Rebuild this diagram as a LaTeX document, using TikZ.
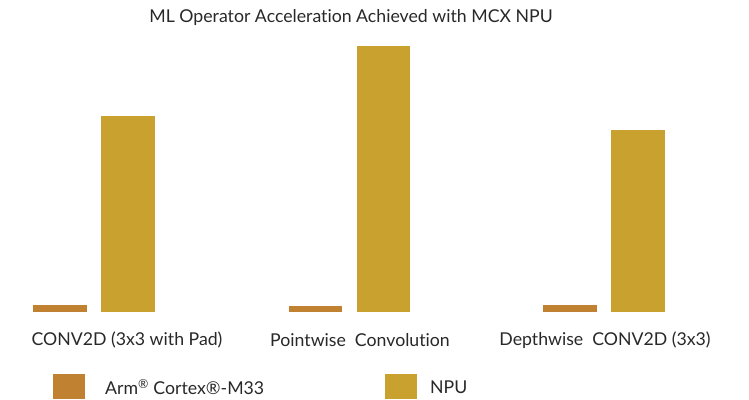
\documentclass[tikz,border=0pt]{standalone}
\usepackage{fontspec}
\setmainfont[Ligatures=NoCommon]{Lato}
\definecolor{armc}{RGB}{192,129,48}
\definecolor{npuc}{RGB}{200,161,46}
\definecolor{txt}{RGB}{40,40,40}
\begin{document}
\begin{tikzpicture}[x=1pt,y=-1pt,
  lbl/.style={font=\fontsize{17.7}{20}\selectfont, text=txt, inner sep=0pt},
  bar/.style={inner sep=0pt, outer sep=0pt}]
\useasboundingbox (0,0) rectangle (749,399);
\node[lbl] (title) at (351,17) {ML Operator Acceleration Achieved with MCX NPU};
% group 1
\fill[armc] (33,305) rectangle (87,312);
\fill[npuc] (101,116) rectangle (155,312);
% group 2
\fill[armc] (289,306) rectangle (342,312);
\fill[npuc] (357,46) rectangle (410,312);
% group 3
\fill[armc] (543,305) rectangle (597,312);
\fill[npuc] (611,130) rectangle (665,312);
% labels
\node[lbl] (l1) at (127,340) {CONV2D (3x3 with Pad)};
\node[lbl] (l2) at (360,340) {Pointwise\ \ Convolution};
\node[lbl] (l3) at (605,340) {Depthwise\ \ CONV2D (3x3)};
% legend
\fill[armc] (53,374) rectangle (85,399);
\node[lbl, anchor=west] (leg1) at (105,387) {Arm\textsuperscript{®} Cortex®-M33};
\fill[npuc] (385,374) rectangle (417,399);
\node[lbl, anchor=west] (leg2) at (430,387) {NPU};
\end{tikzpicture}
\end{document}
